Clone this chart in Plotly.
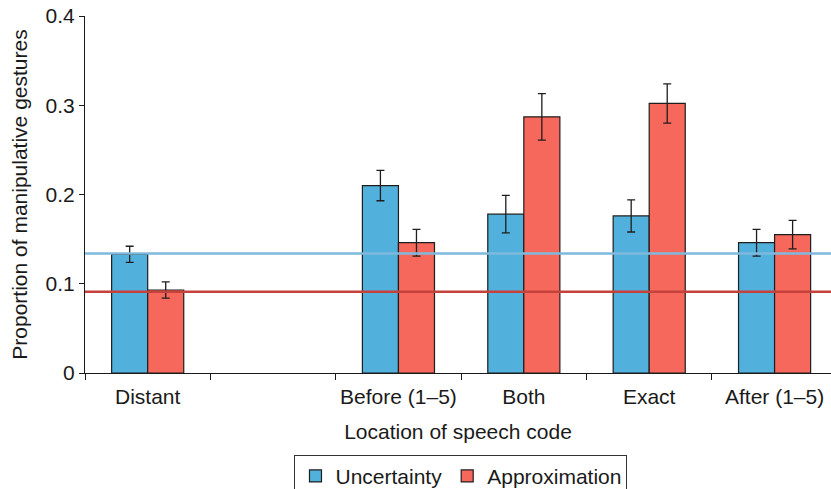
import plotly.graph_objects as go

# Location categories (one blank slot separates "Distant" from the rest)
categories = ["Distant", " ", "Before (1\u20135)", "Both", "Exact", "After (1\u20135)"]

# Mean proportion of manipulative gestures per condition
uncertainty = [0.133, None, 0.210, 0.178, 0.176, 0.146]
approximation = [0.093, None, 0.146, 0.287, 0.302, 0.155]

# Standard errors
uncertainty_err = [0.009, None, 0.017, 0.021, 0.018, 0.015]
approximation_err = [0.009, None, 0.015, 0.026, 0.022, 0.016]

# Overall baseline levels for each condition
baseline_uncertainty = 0.134
baseline_approximation = 0.091

BLUE = "#52b1dc"
RED = "#f5685b"
EDGE = "#1e1e1e"
FONT = "Liberation Sans, Arial, sans-serif"

fig = go.Figure()
fig.add_trace(go.Bar(
    name="Uncertainty", x=categories, y=uncertainty,
    marker=dict(color=BLUE, line=dict(color=EDGE, width=1.2)),
    error_y=dict(type="data", array=uncertainty_err, color=EDGE, thickness=1.3, width=4),
))
fig.add_trace(go.Bar(
    name="Approximation", x=categories, y=approximation,
    marker=dict(color=RED, line=dict(color=EDGE, width=1.2)),
    error_y=dict(type="data", array=approximation_err, color=EDGE, thickness=1.3, width=4),
))

fig.add_shape(type="line", xref="paper", x0=0, x1=1, yref="y",
              y0=baseline_uncertainty, y1=baseline_uncertainty,
              line=dict(color="#7fb9dd", width=2.5), layer="above")
fig.add_shape(type="line", xref="paper", x0=0, x1=1, yref="y",
              y0=baseline_approximation, y1=baseline_approximation,
              line=dict(color="#c4423b", width=2.5), layer="above")

fig.update_layout(
    width=831, height=489,
    margin=dict(l=85, r=0, t=16, b=116),
    plot_bgcolor="white", paper_bgcolor="white",
    font=dict(family=FONT, size=21, color="#1a1a1a"),
    barmode="group", bargap=0.425, bargroupgap=0,
    legend=dict(
        orientation="h", x=0.504, xanchor="center",
        yref="container", y=0.07, yanchor="top",
        bordercolor="#333333", borderwidth=1, font=dict(size=21),
        itemwidth=30, tracegroupgap=0,
    ),
    xaxis=dict(
        type="category", categoryorder="array", categoryarray=categories,
        range=[-0.5, 5.45], automargin=False,
        showline=True, linecolor="#1a1a1a", linewidth=1,
        ticks="outside", tickson="boundaries", ticklen=6, tickcolor="#1a1a1a",
        tickfont=dict(size=21), tickangle=0, ticklabelstandoff=5,
        title=dict(text="Location of speech code", font=dict(size=21), standoff=17),
        showgrid=False, zeroline=False,
    ),
    yaxis=dict(
        range=[0, 0.4], automargin=False, tickvals=[0, 0.1, 0.2, 0.3, 0.4],
        ticktext=["0", "0.1", "0.2", "0.3", "0.4"],
        showline=True, linecolor="#1a1a1a", linewidth=1,
        ticks="outside", ticklen=5, tickcolor="#1a1a1a",
        tickfont=dict(size=21),
        title=dict(text="Proportion of manipulative gestures", font=dict(size=21), standoff=12),
        showgrid=False, zeroline=False,
    ),
)

fig.write_html("out.html")
